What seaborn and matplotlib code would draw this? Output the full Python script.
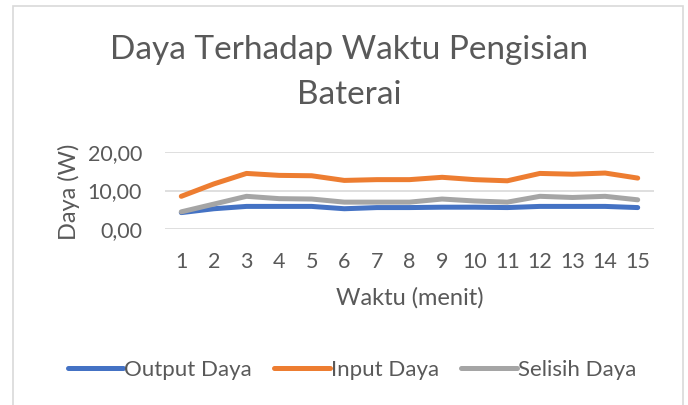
import numpy as np
import pandas as pd
import seaborn as sns
import matplotlib.pyplot as plt
from matplotlib.patches import Rectangle

# data
menit = list(range(1, 16))
output_daya = [4.3, 5.3, 5.9, 5.9, 5.9, 5.3, 5.6, 5.6, 5.7, 5.7, 5.6, 5.9, 5.9, 5.9, 5.6]
input_daya = [8.5, 11.7, 14.4, 13.9, 13.8, 12.6, 12.8, 12.8, 13.4, 12.8, 12.5, 14.4, 14.2, 14.5, 13.2]
selisih_daya = [4.5, 6.5, 8.5, 7.9, 7.8, 7.0, 7.0, 7.0, 7.8, 7.3, 7.0, 8.5, 8.2, 8.5, 7.6]
series_names = ["Output Daya", "Input Daya", "Selisih Daya"]
colors = ["#4472C4", "#ED7D31", "#A5A5A5"]

df = pd.DataFrame({"Waktu": menit, series_names[0]: output_daya,
                   series_names[1]: input_daya, series_names[2]: selisih_daya})
long_df = df.melt(id_vars="Waktu", var_name="Seri", value_name="Daya")

sns.set_theme(style="white")
plt.rcParams['font.family'] = ['Lato', 'DejaVu Sans']
text_color = "#595959"

fig = plt.figure(figsize=(6.88, 4.05), dpi=100)
W, H = 688, 405
ax = fig.add_axes([165 / W, 1 - 229.3 / H, (654 - 165) / W, (229.3 - 151.7) / H])

sns.lineplot(data=long_df, x="Waktu", y="Daya", hue="Seri", palette=colors,
             hue_order=series_names, linewidth=3.6, ax=ax, legend=False,
             solid_capstyle="round")

ax.set_xlim(0.5, 15.5)
ax.set_ylim(0, 20)
ax.set_yticks([0, 10, 20])
ax.set_yticklabels(["0,00", "10,00", "20,00"])
ax.set_xticks(menit)
ax.set_xticklabels([str(m) for m in menit])
ax.grid(axis="y", color="#D9D9D9", linewidth=1.2)
ax.set_axisbelow(True)
for s in ax.spines.values():
    s.set_visible(False)
ax.tick_params(axis="both", length=0, colors=text_color, labelsize=15.5)
ax.tick_params(axis="x", pad=16)
ax.tick_params(axis="y", pad=16.5)

ax.set_xlabel("Waktu (menit)", fontsize=17, color=text_color)
ax.set_ylabel("Daya (W)", fontsize=17, color=text_color)
ax.xaxis.set_label_coords(409.5 / W, 1 - 287 / H, transform=fig.transFigure)
ax.yaxis.set_label_coords(80 / W, 1 - 192 / H, transform=fig.transFigure)

fig.text(349 / W, 1 - 50 / H, "Daya Terhadap Waktu Pengisian", ha="center", va="center",
         fontsize=24, color=text_color)
fig.text(349 / W, 1 - 95 / H, "Baterai", ha="center", va="center",
         fontsize=24, color=text_color)

handles = [plt.Line2D([], [], color=c, linewidth=3.6, solid_capstyle="round") for c in colors]
fig.legend(handles, series_names, loc="center", bbox_to_anchor=(352 / W, 1 - 370 / H),
           ncol=3, frameon=False, fontsize=16, handlelength=2.5, handletextpad=0.05,
           columnspacing=1.0, labelcolor=text_color)

fig.patches.append(Rectangle((13 / W, -0.01), (683 - 13) / W, 1 - 6 / H + 0.01,
                             transform=fig.transFigure, fill=False,
                             edgecolor="#D9D9D9", linewidth=1.2))

fig.savefig("out.png", dpi=100)
